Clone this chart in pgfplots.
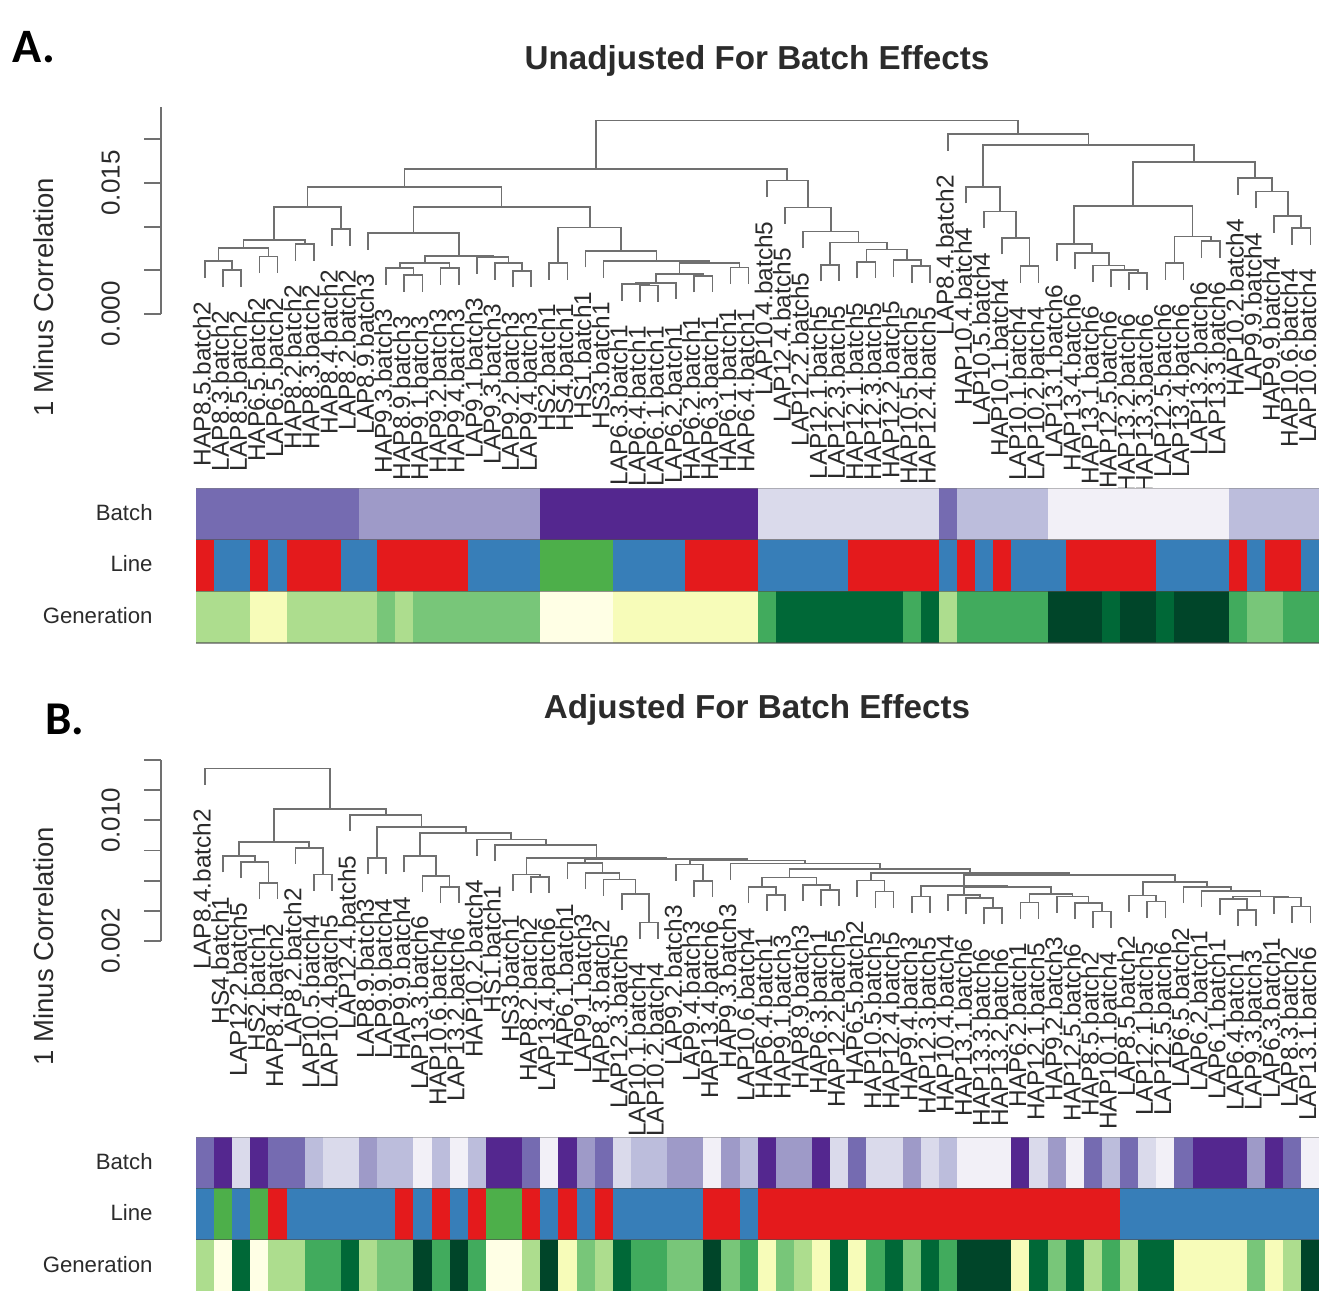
\documentclass[border=0pt]{standalone}
\usepackage{pgfplots}
\pgfplotsset{compat=1.18}
\usepackage{fontspec}
\setmainfont{Liberation Sans}
\newfontfamily\carl{Carlito}
\definecolor{b1}{HTML}{54278F}\definecolor{b2}{HTML}{756BB1}\definecolor{b3}{HTML}{9E9AC8}
\definecolor{b4}{HTML}{BCBDDC}\definecolor{b5}{HTML}{DADAEB}\definecolor{b6}{HTML}{F2F0F7}
\definecolor{rr}{HTML}{E41A1C}\definecolor{bb}{HTML}{377EB8}\definecolor{gg}{HTML}{4DAF4A}
\definecolor{g0}{HTML}{FFFFE5}\definecolor{g6}{HTML}{F7FCB9}\definecolor{g8}{HTML}{ADDD8E}
\definecolor{g9}{HTML}{78C679}\definecolor{g10}{HTML}{41AB5D}\definecolor{g12}{HTML}{006837}\definecolor{g13}{HTML}{004529}
\definecolor{lin}{HTML}{707070}\definecolor{txt}{HTML}{2B2B2B}
% one merge of a dendrogram: left x, left child height, right x, right child height, merge height
\newcommand\M[5]{\addplot[lin,line width=0.85pt,forget plot] coordinates {(#1,#2)(#1,#5)(#3,#5)(#3,#4)};}
% leaf label: leaf index, height of the end of the leaf, text
\newcommand\T[3]{\node[rotate=90,anchor=east,inner sep=0pt,text=txt,font=\fontsize{12.2}{13}\selectfont] at ([yshift=-12pt,xshift=-1.5pt]axis cs:#1,#2) {#3};}
% run of cells in a colour band: colour, left edge, right edge, top of band
\newcommand\R[4]{\addplot[fill=#1,draw=none,forget plot] coordinates {(#2,#4)(#3,#4)} \closedcycle;}
\pgfplotsset{
 dendro/.style={scale only axis,clip=false,width=579.2pt,xmin=-1.428,xmax=62.5,
  axis x line=none,axis y line=left,axis line style={lin,line width=0.85pt,-},
  tick align=outside,major tick length=8.5pt,ytick style={lin,line width=0.85pt},
  y tick label style={rotate=90,anchor=south,text=txt,font=\fontsize{13}{14}\selectfont,yshift=8.5pt}},
 heat/.style={scale only axis,hide axis,width=561.7pt,xmin=0.5,xmax=62.5,ymin=0,ymax=3,clip=true},
}
\tikzset{rowlab/.style={anchor=east,inner sep=0pt,font=\fontsize{11.1}{12}\selectfont,text=txt}}
\begin{document}
\begin{tikzpicture}
\useasboundingbox (0,0) rectangle (659.5pt,-645.5pt);
% ---------------- panel A
\node[font=\carl\bfseries\fontsize{24}{26}\selectfont,text=black] at (17pt,-23.5pt) {A.};
\node[font=\bfseries\fontsize{16.6}{18}\selectfont,text=txt] at (378.5pt,-30.5pt) {Unadjusted For Batch Effects};
\node[rotate=90,font=\fontsize{13.75}{15}\selectfont,text=txt] at (22pt,-148.5pt) {1 Minus Correlation};
\begin{axis}[dendro,at={(80.5pt,-157pt)},anchor=south west,height=103.5pt,ymin=0,ymax=23.7,
  ytick={0,5,10,15,20},yticklabels={0.000,,,0.015,}]
\M{2}{3.14}{3}{3.14}{5.04}
\M{1}{4.17}{2.5}{5.04}{6.07}
\M{4}{4.67}{5}{4.67}{6.57}
\M{1.75}{6.07}{4.5}{6.57}{7.52}
\M{6}{6.08}{7}{6.08}{7.98}
\M{3.125}{7.52}{6.5}{7.98}{8.44}
\M{8}{7.80}{9}{7.80}{9.70}
\M{4.81}{8.44}{8.5}{9.70}{12.29}
\M{12}{2.57}{13}{2.57}{4.47}
\M{11}{3.33}{12.5}{4.47}{5.23}
\M{14}{3.33}{15}{3.33}{5.23}
\M{11.75}{5.23}{14.5}{5.23}{5.88}
\M{18}{3.06}{19}{3.06}{4.96}
\M{17}{3.90}{18.5}{4.96}{5.80}
\M{16}{4.59}{17.75}{5.80}{6.49}
\M{13.125}{5.88}{16.875}{6.49}{6.68}
\M{10}{7.34}{15}{6.68}{9.24}
\M{20}{3.90}{21}{3.90}{5.80}
\M{25}{1.38}{26}{1.38}{3.28}
\M{24}{1.54}{25.5}{3.28}{3.44}
\M{24.75}{3.44}{27}{1.69}{3.59}
\M{28}{2.49}{29}{2.49}{4.39}
\M{25.875}{3.59}{28.5}{4.39}{4.58}
\M{30}{3.41}{31}{3.41}{5.31}
\M{27.19}{4.58}{30.5}{5.31}{5.80}
\M{23}{4.17}{28.84}{5.80}{6.07}
\M{22}{5.35}{25.92}{6.07}{7.25}
\M{20.5}{5.80}{23.96}{7.25}{9.89}
\M{12.5}{9.24}{22.23}{9.89}{12.29}
\M{6.66}{12.29}{17.36}{12.29}{14.58}
\M{40}{3.60}{41}{3.60}{5.50}
\M{39}{4.28}{40.5}{5.50}{6.18}
\M{37}{4.09}{38}{4.09}{5.99}
\M{37.5}{5.99}{39.75}{6.18}{7.37}
\M{35}{3.75}{36}{3.75}{5.65}
\M{35.5}{5.65}{38.625}{7.37}{8.17}
\M{34}{7.53}{37.06}{8.17}{9.43}
\M{33}{10.31}{35.53}{9.43}{12.21}
\M{32}{13.37}{34.27}{12.21}{15.27}
\M{12.01}{14.58}{33.13}{15.27}{16.60}
\M{46}{3.60}{47}{3.60}{5.50}
\M{45}{6.84}{46.5}{5.50}{8.74}
\M{44}{9.82}{45.75}{8.74}{11.72}
\M{43}{12.68}{44.875}{11.72}{14.58}
\M{52}{2.76}{53}{2.76}{4.66}
\M{51}{3.14}{52.5}{4.66}{5.04}
\M{50}{3.67}{51.75}{5.04}{5.57}
\M{49}{5.12}{50.875}{5.57}{7.02}
\M{48}{6.12}{49.94}{7.02}{8.02}
\M{54}{3.90}{55}{3.90}{5.80}
\M{56}{6.46}{57}{6.46}{8.36}
\M{54.5}{5.80}{56.5}{8.36}{8.86}
\M{48.97}{8.02}{55.5}{8.86}{12.37}
\M{61}{7.91}{62}{7.91}{9.81}
\M{60}{9.32}{61.5}{9.81}{11.22}
\M{59}{12.11}{60.75}{11.22}{14.01}
\M{58}{13.64}{59.875}{14.01}{15.54}
\M{52.23}{12.37}{58.94}{15.54}{17.44}
\M{43.94}{14.58}{55.58}{17.44}{19.35}
\M{42}{18.67}{49.76}{19.35}{20.57}
\M{22.57}{16.60}{45.88}{20.57}{22.14}
\T{1}{4.17}{HAP8.5.batch2}\T{2}{3.14}{LAP8.3.batch2}\T{3}{3.14}{LAP8.5.batch2}\T{4}{4.67}{HAP6.5.batch2}
\T{5}{4.67}{LAP6.5.batch2}\T{6}{6.08}{HAP8.2.batch2}\T{7}{6.08}{HAP8.3.batch2}\T{8}{7.80}{HAP8.4.batch2}
\T{9}{7.80}{LAP8.2.batch2}\T{10}{7.34}{LAP8.9.batch3}\T{11}{3.33}{HAP9.3.batch3}\T{12}{2.57}{HAP8.9.batch3}
\T{13}{2.57}{HAP9.1.batch3}\T{14}{3.33}{HAP9.2.batch3}\T{15}{3.33}{HAP9.4.batch3}\T{16}{4.59}{LAP9.1.batch3}
\T{17}{3.90}{LAP9.3.batch3}\T{18}{3.06}{LAP9.2.batch3}\T{19}{3.06}{LAP9.4.batch3}\T{20}{3.90}{HS2.batch1}
\T{21}{3.90}{HS4.batch1}\T{22}{5.35}{HS1.batch1}\T{23}{4.17}{HS3.batch1}\T{24}{1.54}{LAP6.3.batch1}
\T{25}{1.38}{LAP6.4.batch1}\T{26}{1.38}{LAP6.1.batch1}\T{27}{1.69}{LAP6.2.batch1}\T{28}{2.49}{HAP6.2.batch1}
\T{29}{2.49}{HAP6.3.batch1}\T{30}{3.41}{HAP6.1.batch1}\T{31}{3.41}{HAP6.4.batch1}\T{32}{13.37}{LAP10.4.batch5}
\T{33}{10.31}{LAP12.4.batch5}\T{34}{7.53}{LAP12.2.batch5}\T{35}{3.75}{LAP12.1.batch5}\T{36}{3.75}{LAP12.3.batch5}
\T{37}{4.09}{HAP12.1.batch5}\T{38}{4.09}{HAP12.3.batch5}\T{39}{4.28}{HAP12.2.batch5}\T{40}{3.60}{HAP10.5.batch5}
\T{41}{3.60}{HAP12.4.batch5}\T{42}{18.67}{LAP8.4.batch2}\T{43}{12.68}{HAP10.4.batch4}\T{44}{9.82}{LAP10.5.batch4}
\T{45}{6.84}{HAP10.1.batch4}\T{46}{3.60}{LAP10.1.batch4}\T{47}{3.60}{LAP10.2.batch4}\T{48}{6.12}{LAP13.1.batch6}
\T{49}{5.12}{HAP13.4.batch6}\T{50}{3.67}{HAP13.1.batch6}\T{51}{3.14}{HAP12.5.batch6}\T{52}{2.76}{HAP13.2.batch6}
\T{53}{2.76}{HAP13.3.batch6}\T{54}{3.90}{LAP12.5.batch6}\T{55}{3.90}{LAP13.4.batch6}\T{56}{6.46}{LAP13.2.batch6}
\T{57}{6.46}{LAP13.3.batch6}\T{58}{13.64}{HAP10.2.batch4}\T{59}{12.11}{LAP9.9.batch4}\T{60}{9.32}{HAP9.9.batch4}
\T{61}{7.91}{HAP10.6.batch4}\T{62}{7.91}{LAP10.6.batch4}
\end{axis}
\node[rowlab] at (76.5pt,-256.5pt) {Batch};
\node[rowlab] at (76.5pt,-282pt) {Line};
\node[rowlab] at (76.5pt,-308pt) {Generation};
\begin{axis}[heat,at={(98pt,-321.5pt)},anchor=south west,height=77.5pt]
\R{b2}{0.5}{9.5}{3}\R{b3}{9.5}{19.5}{3}\R{b1}{19.5}{31.5}{3}\R{b5}{31.5}{41.5}{3}\R{b2}{41.5}{42.5}{3}\R{b4}{42.5}{47.5}{3}\R{b6}{47.5}{57.5}{3}\R{b4}{57.5}{62.5}{3}
\R{rr}{0.5}{1.5}{2}\R{bb}{1.5}{3.5}{2}\R{rr}{3.5}{4.5}{2}\R{bb}{4.5}{5.5}{2}\R{rr}{5.5}{8.5}{2}\R{bb}{8.5}{10.5}{2}\R{rr}{10.5}{15.5}{2}\R{bb}{15.5}{19.5}{2}\R{gg}{19.5}{23.5}{2}\R{bb}{23.5}{27.5}{2}\R{rr}{27.5}{31.5}{2}\R{bb}{31.5}{36.5}{2}\R{rr}{36.5}{41.5}{2}\R{bb}{41.5}{42.5}{2}\R{rr}{42.5}{43.5}{2}\R{bb}{43.5}{44.5}{2}\R{rr}{44.5}{45.5}{2}\R{bb}{45.5}{48.5}{2}\R{rr}{48.5}{53.5}{2}\R{bb}{53.5}{57.5}{2}\R{rr}{57.5}{58.5}{2}\R{bb}{58.5}{59.5}{2}\R{rr}{59.5}{61.5}{2}\R{bb}{61.5}{62.5}{2}
\R{g8}{0.5}{3.5}{1}\R{g6}{3.5}{5.5}{1}\R{g8}{5.5}{10.5}{1}\R{g9}{10.5}{11.5}{1}\R{g8}{11.5}{12.5}{1}\R{g9}{12.5}{19.5}{1}\R{g0}{19.5}{23.5}{1}\R{g6}{23.5}{31.5}{1}\R{g10}{31.5}{32.5}{1}\R{g12}{32.5}{39.5}{1}\R{g10}{39.5}{40.5}{1}\R{g12}{40.5}{41.5}{1}\R{g8}{41.5}{42.5}{1}\R{g10}{42.5}{47.5}{1}\R{g13}{47.5}{50.5}{1}\R{g12}{50.5}{51.5}{1}\R{g13}{51.5}{53.5}{1}\R{g12}{53.5}{54.5}{1}\R{g13}{54.5}{57.5}{1}\R{g10}{57.5}{58.5}{1}\R{g9}{58.5}{60.5}{1}\R{g10}{60.5}{62.5}{1}
\addplot[black!70,line width=0.6pt,opacity=0.6,forget plot] coordinates {(0.5,1)(62.5,1)};
\addplot[black!70,line width=0.6pt,opacity=0.6,forget plot] coordinates {(0.5,2)(62.5,2)};
\addplot[black!70,line width=0.8pt,opacity=0.6,forget plot] coordinates {(0.5,0)(62.5,0)};
\addplot[black!50,line width=0.5pt,opacity=0.5,forget plot] coordinates {(0.5,3)(62.5,3)};
\end{axis}
% ---------------- panel B
\node[font=\carl\bfseries\fontsize{23.5}{26}\selectfont,text=black] at (32.5pt,-359.5pt) {B.};
\node[font=\bfseries\fontsize{16.6}{18}\selectfont,text=txt] at (378.5pt,-355pt) {Adjusted For Batch Effects};
\node[rotate=90,font=\fontsize{13.75}{15}\selectfont,text=txt] at (22pt,-473pt) {1 Minus Correlation};
\begin{axis}[dendro,at={(80.5pt,-470.5pt)},anchor=south west,height=90.5pt,ymin=2,ymax=14,
  ytick={2,4,6,8,10,12,14},yticklabels={0.002,,,,0.010,,}]
\M{4}{4.77}{5}{4.77}{5.84}
\M{3}{6.17}{4.5}{5.84}{7.24}
\M{2}{6.55}{3.75}{7.24}{7.62}
\M{7}{5.33}{8}{5.33}{6.40}
\M{6}{7.11}{7.5}{6.40}{8.18}
\M{2.875}{7.62}{6.75}{8.18}{8.58}
\M{10}{6.44}{11}{6.44}{7.51}
\M{14}{4.51}{15}{4.51}{5.58}
\M{13}{5.26}{14.5}{5.58}{6.33}
\M{12}{6.55}{13.75}{6.33}{7.62}
\M{19}{5.17}{20}{5.17}{6.24}
\M{18}{5.33}{19.5}{6.24}{6.40}
\M{25}{2.15}{26}{2.15}{3.22}
\M{24}{4.04}{25.5}{3.22}{5.11}
\M{23}{5.00}{24.75}{5.11}{6.07}
\M{22}{5.44}{23.875}{6.07}{6.51}
\M{21}{6.11}{22.94}{6.51}{7.18}
\M{28}{4.93}{29}{4.93}{6.00}
\M{27}{6.00}{28.5}{6.00}{7.07}
\M{32}{4.00}{33}{4.00}{5.07}
\M{31}{4.51}{32.5}{5.07}{5.58}
\M{35}{4.33}{36}{4.33}{5.40}
\M{34}{4.66}{35.5}{5.40}{5.73}
\M{31.75}{5.58}{34.75}{5.73}{6.22}
\M{38}{4.22}{39}{4.22}{5.29}
\M{37}{4.95}{38.5}{5.29}{6.02}
\M{40}{3.89}{41}{3.89}{4.96}
\M{44}{3.11}{45}{3.11}{4.18}
\M{43}{3.77}{44.5}{4.18}{4.84}
\M{42}{4.00}{43.75}{4.84}{5.07}
\M{46}{3.49}{47}{3.49}{4.56}
\M{50}{2.89}{51}{2.89}{3.96}
\M{49}{3.44}{50.5}{3.96}{4.51}
\M{48}{3.89}{49.75}{4.51}{4.96}
\M{46.5}{4.56}{48.875}{4.96}{5.13}
\M{42.875}{5.07}{47.69}{5.13}{5.56}
\M{40.5}{4.96}{45.28}{5.56}{5.67}
\M{53}{3.55}{54}{3.55}{4.62}
\M{52}{3.95}{53.5}{4.62}{5.02}
\M{58}{3.00}{59}{3.00}{4.07}
\M{57}{3.73}{58.5}{4.07}{4.80}
\M{61}{3.22}{62}{3.22}{4.29}
\M{60}{3.82}{61.5}{4.29}{4.89}
\M{57.75}{4.80}{60.75}{4.89}{4.96}
\M{56}{4.26}{59.25}{4.96}{5.33}
\M{55}{4.51}{57.625}{5.33}{5.58}
\M{52.75}{5.02}{56.31}{5.58}{5.91}
\M{42.89}{5.67}{54.53}{5.91}{6.38}
\M{37.75}{6.02}{48.71}{6.38}{6.51}
\M{33.25}{6.22}{43.23}{6.51}{6.78}
\M{30}{6.06}{38.24}{6.78}{7.13}
\M{27.75}{7.07}{34.12}{7.13}{7.33}
\M{21.97}{7.18}{30.94}{7.33}{7.44}
\M{18.75}{6.40}{26.45}{7.44}{7.51}
\M{17}{7.29}{22.6}{7.51}{8.36}
\M{16}{7.66}{19.8}{8.36}{8.73}
\M{12.875}{7.62}{17.9}{8.73}{9.18}
\M{10.5}{7.51}{15.39}{9.18}{9.58}
\M{9}{9.29}{12.95}{9.58}{10.36}
\M{4.81}{8.58}{10.97}{10.36}{10.73}
\M{1}{12.37}{7.89}{10.73}{13.44}
\T{1}{12.37}{LAP8.4.batch2}\T{2}{6.55}{HS4.batch1}\T{3}{6.17}{LAP12.2.batch5}\T{4}{4.77}{HS2.batch1}
\T{5}{4.77}{HAP8.4.batch2}\T{6}{7.11}{LAP8.2.batch2}\T{7}{5.33}{LAP10.5.batch4}\T{8}{5.33}{LAP10.4.batch5}
\T{9}{9.29}{LAP12.4.batch5}\T{10}{6.44}{LAP8.9.batch3}\T{11}{6.44}{LAP9.9.batch4}\T{12}{6.55}{HAP9.9.batch4}
\T{13}{5.26}{LAP13.3.batch6}\T{14}{4.51}{HAP10.6.batch4}\T{15}{4.51}{LAP13.2.batch6}\T{16}{7.66}{HAP10.2.batch4}
\T{17}{7.29}{HS1.batch1}\T{18}{5.33}{HS3.batch1}\T{19}{5.17}{HAP8.2.batch2}\T{20}{5.17}{LAP13.4.batch6}
\T{21}{6.11}{HAP6.1.batch1}\T{22}{5.44}{LAP9.1.batch3}\T{23}{5.00}{HAP8.3.batch2}\T{24}{4.04}{LAP12.3.batch5}
\T{25}{2.15}{LAP10.1.batch4}\T{26}{2.15}{LAP10.2.batch4}\T{27}{6.00}{LAP9.2.batch3}\T{28}{4.93}{LAP9.4.batch3}
\T{29}{4.93}{HAP13.4.batch6}\T{30}{6.06}{HAP9.3.batch3}\T{31}{4.51}{LAP10.6.batch4}\T{32}{4.00}{HAP6.4.batch1}
\T{33}{4.00}{HAP9.1.batch3}\T{34}{4.66}{HAP8.9.batch3}\T{35}{4.33}{HAP6.3.batch1}\T{36}{4.33}{HAP12.2.batch5}
\T{37}{4.95}{HAP6.5.batch2}\T{38}{4.22}{HAP10.5.batch5}\T{39}{4.22}{HAP12.4.batch5}\T{40}{3.89}{HAP9.4.batch3}
\T{41}{3.89}{HAP12.3.batch5}\T{42}{4.00}{HAP10.4.batch4}\T{43}{3.77}{HAP13.1.batch6}\T{44}{3.11}{HAP13.3.batch6}
\T{45}{3.11}{HAP13.2.batch6}\T{46}{3.49}{HAP6.2.batch1}\T{47}{3.49}{HAP12.1.batch5}\T{48}{3.89}{HAP9.2.batch3}
\T{49}{3.44}{HAP12.5.batch6}\T{50}{2.89}{HAP8.5.batch2}\T{51}{2.89}{HAP10.1.batch4}\T{52}{3.95}{LAP8.5.batch2}
\T{53}{3.55}{LAP12.1.batch5}\T{54}{3.55}{LAP12.5.batch6}\T{55}{4.51}{LAP6.5.batch2}\T{56}{4.26}{LAP6.2.batch1}
\T{57}{3.73}{LAP6.1.batch1}\T{58}{3.00}{LAP6.4.batch1}\T{59}{3.00}{LAP9.3.batch3}\T{60}{3.82}{LAP6.3.batch1}
\T{61}{3.22}{LAP8.3.batch2}\T{62}{3.22}{LAP13.1.batch6}
\end{axis}
\node[rowlab] at (76.5pt,-581pt) {Batch};
\node[rowlab] at (76.5pt,-606.5pt) {Line};
\node[rowlab] at (76.5pt,-632.5pt) {Generation};
\begin{axis}[heat,at={(98pt,-645.5pt)},anchor=south west,height=77pt]
\R{b2}{0.5}{1.5}{3}\R{b1}{1.5}{2.5}{3}\R{b5}{2.5}{3.5}{3}\R{b1}{3.5}{4.5}{3}\R{b2}{4.5}{6.5}{3}\R{b4}{6.5}{7.5}{3}\R{b5}{7.5}{9.5}{3}\R{b3}{9.5}{10.5}{3}\R{b4}{10.5}{12.5}{3}\R{b6}{12.5}{13.5}{3}\R{b4}{13.5}{14.5}{3}\R{b6}{14.5}{15.5}{3}\R{b4}{15.5}{16.5}{3}\R{b1}{16.5}{18.5}{3}\R{b2}{18.5}{19.5}{3}\R{b6}{19.5}{20.5}{3}\R{b1}{20.5}{21.5}{3}\R{b3}{21.5}{22.5}{3}\R{b2}{22.5}{23.5}{3}\R{b5}{23.5}{24.5}{3}\R{b4}{24.5}{26.5}{3}\R{b3}{26.5}{28.5}{3}\R{b6}{28.5}{29.5}{3}\R{b3}{29.5}{30.5}{3}\R{b4}{30.5}{31.5}{3}\R{b1}{31.5}{32.5}{3}\R{b3}{32.5}{34.5}{3}\R{b1}{34.5}{35.5}{3}\R{b5}{35.5}{36.5}{3}\R{b2}{36.5}{37.5}{3}\R{b5}{37.5}{39.5}{3}\R{b3}{39.5}{40.5}{3}\R{b5}{40.5}{41.5}{3}\R{b4}{41.5}{42.5}{3}\R{b6}{42.5}{45.5}{3}\R{b1}{45.5}{46.5}{3}\R{b5}{46.5}{47.5}{3}\R{b3}{47.5}{48.5}{3}\R{b6}{48.5}{49.5}{3}\R{b2}{49.5}{50.5}{3}\R{b4}{50.5}{51.5}{3}\R{b2}{51.5}{52.5}{3}\R{b5}{52.5}{53.5}{3}\R{b6}{53.5}{54.5}{3}\R{b2}{54.5}{55.5}{3}\R{b1}{55.5}{58.5}{3}\R{b3}{58.5}{59.5}{3}\R{b1}{59.5}{60.5}{3}\R{b2}{60.5}{61.5}{3}\R{b6}{61.5}{62.5}{3}
\R{bb}{0.5}{1.5}{2}\R{gg}{1.5}{2.5}{2}\R{bb}{2.5}{3.5}{2}\R{gg}{3.5}{4.5}{2}\R{rr}{4.5}{5.5}{2}\R{bb}{5.5}{11.5}{2}\R{rr}{11.5}{12.5}{2}\R{bb}{12.5}{13.5}{2}\R{rr}{13.5}{14.5}{2}\R{bb}{14.5}{15.5}{2}\R{rr}{15.5}{16.5}{2}\R{gg}{16.5}{18.5}{2}\R{rr}{18.5}{19.5}{2}\R{bb}{19.5}{20.5}{2}\R{rr}{20.5}{21.5}{2}\R{bb}{21.5}{22.5}{2}\R{rr}{22.5}{23.5}{2}\R{bb}{23.5}{28.5}{2}\R{rr}{28.5}{30.5}{2}\R{bb}{30.5}{31.5}{2}\R{rr}{31.5}{51.5}{2}\R{bb}{51.5}{62.5}{2}
\R{g8}{0.5}{1.5}{1}\R{g0}{1.5}{2.5}{1}\R{g12}{2.5}{3.5}{1}\R{g0}{3.5}{4.5}{1}\R{g8}{4.5}{6.5}{1}\R{g10}{6.5}{8.5}{1}\R{g12}{8.5}{9.5}{1}\R{g8}{9.5}{10.5}{1}\R{g9}{10.5}{12.5}{1}\R{g13}{12.5}{13.5}{1}\R{g10}{13.5}{14.5}{1}\R{g13}{14.5}{15.5}{1}\R{g10}{15.5}{16.5}{1}\R{g0}{16.5}{18.5}{1}\R{g8}{18.5}{19.5}{1}\R{g13}{19.5}{20.5}{1}\R{g6}{20.5}{21.5}{1}\R{g9}{21.5}{22.5}{1}\R{g8}{22.5}{23.5}{1}\R{g12}{23.5}{24.5}{1}\R{g10}{24.5}{26.5}{1}\R{g9}{26.5}{28.5}{1}\R{g13}{28.5}{29.5}{1}\R{g9}{29.5}{30.5}{1}\R{g10}{30.5}{31.5}{1}\R{g6}{31.5}{32.5}{1}\R{g9}{32.5}{33.5}{1}\R{g8}{33.5}{34.5}{1}\R{g6}{34.5}{35.5}{1}\R{g12}{35.5}{36.5}{1}\R{g6}{36.5}{37.5}{1}\R{g10}{37.5}{38.5}{1}\R{g12}{38.5}{39.5}{1}\R{g9}{39.5}{40.5}{1}\R{g12}{40.5}{41.5}{1}\R{g10}{41.5}{42.5}{1}\R{g13}{42.5}{45.5}{1}\R{g6}{45.5}{46.5}{1}\R{g12}{46.5}{47.5}{1}\R{g9}{47.5}{48.5}{1}\R{g12}{48.5}{49.5}{1}\R{g8}{49.5}{50.5}{1}\R{g10}{50.5}{51.5}{1}\R{g8}{51.5}{52.5}{1}\R{g12}{52.5}{54.5}{1}\R{g6}{54.5}{58.5}{1}\R{g9}{58.5}{59.5}{1}\R{g6}{59.5}{60.5}{1}\R{g8}{60.5}{61.5}{1}\R{g13}{61.5}{62.5}{1}
\addplot[black!70,line width=0.6pt,opacity=0.6,forget plot] coordinates {(0.5,1)(62.5,1)};
\addplot[black!70,line width=0.6pt,opacity=0.6,forget plot] coordinates {(0.5,2)(62.5,2)};
\addplot[black!50,line width=0.5pt,opacity=0.5,forget plot] coordinates {(0.5,3)(62.5,3)};
\end{axis}
\end{tikzpicture}
\end{document}
